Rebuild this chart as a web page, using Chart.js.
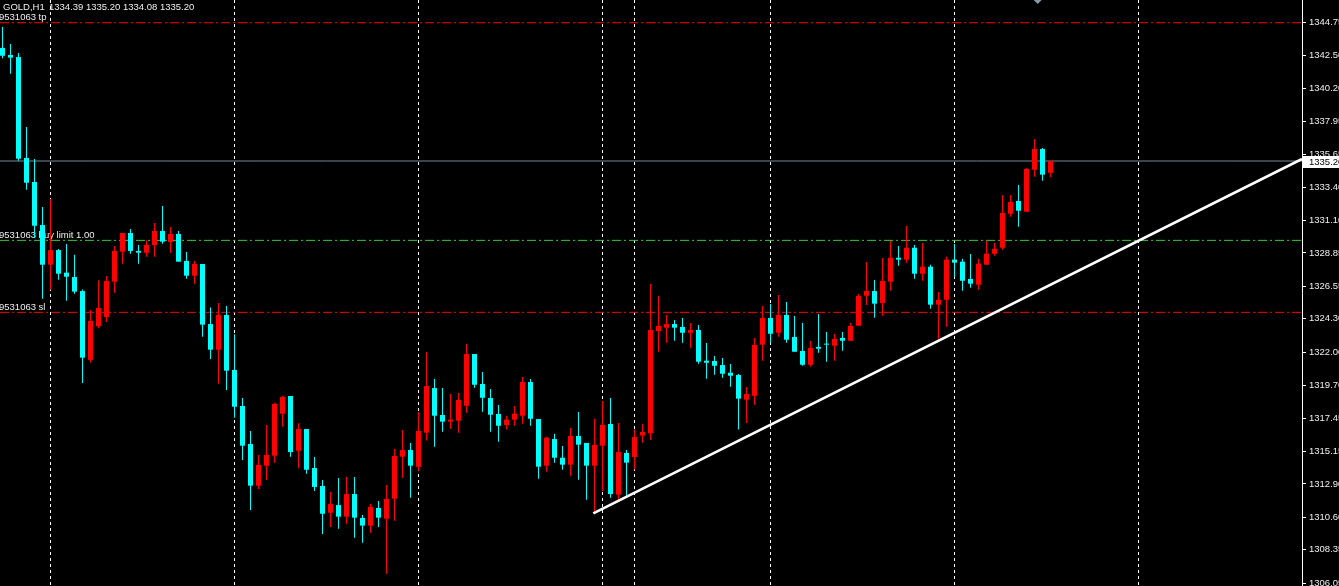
<!DOCTYPE html>
<html>
<head>
<meta charset="utf-8">
<script src="https://cdn.jsdelivr.net/npm/chart.js@4.4.0/dist/chart.umd.min.js"></script>
<style>
html,body{margin:0;padding:0;background:#000;overflow:hidden}
#wrap{position:relative;width:1339px;height:586px}
</style>
</head>
<body>
<div id="wrap"><canvas id="c"></canvas></div>
<script>
// ---- data (GOLD, H1) ----
const SYMBOL = 'GOLD,H1';
const LAST_QUOTE = '1334.39 1335.20 1334.08 1335.20';
const ORDER_ID = '9531063';

const OPEN = [1343.01,1342.52,1342.38,1335.41,1333.75,1330.78,1328.04,1329.05,1327.49,1327.19,
1326.22,1321.47,1323.79,1324.43,1326.87,1328.94,1330.23,1328.99,1328.87,1329.40,
1330.37,1329.61,1330.16,1328.30,1327.28,1328.09,1323.94,1322.17,1324.57,1320.77,
1318.28,1315.66,1312.78,1314.16,1314.85,1317.75,1318.97,1315.19,1316.69,1314.00,
1312.76,1310.91,1311.44,1310.64,1312.20,1310.55,1310.02,1311.24,1310.50,1311.88,
1314.78,1315.24,1314.09,1316.44,1319.52,1317.66,1317.20,1317.27,1318.30,1321.87,
1319.80,1318.83,1317.73,1316.97,1317.34,1317.61,1319.94,1317.38,1314.16,1316.00,
1314.71,1314.23,1316.21,1315.73,1314.16,1315.54,1317.04,1312.16,1315.04,1314.76,
1316.24,1316.40,1323.46,1323.69,1323.94,1323.74,1323.34,1323.53,1321.41,1321.39,
1321.11,1320.58,1320.42,1318.72,1318.99,1322.52,1324.36,1323.34,1324.57,1323.05,
1322.08,1321.13,1322.36,1322.58,1322.45,1322.98,1322.79,1323.83,1325.90,1326.22,
1325.40,1326.87,1328.52,1328.39,1329.21,1327.42,1327.90,1325.28,1325.62,1328.39,
1328.25,1327.05,1326.66,1328.04,1328.80,1329.21,1331.56,1332.44,1331.70,1334.60,
1336.03,1334.39];
const HIGH = [1344.46,1343.28,1342.66,1337.55,1335.34,1332.02,1332.58,1329.12,1329.47,1328.73,
1326.32,1324.91,1326.96,1327.26,1329.33,1330.23,1330.51,1329.40,1329.73,1330.92,
1332.09,1330.64,1330.37,1328.92,1328.30,1328.09,1325.08,1325.40,1325.19,1323.23,
1318.83,1316.56,1314.90,1316.97,1318.51,1318.97,1318.97,1317.09,1316.69,1314.76,
1313.17,1312.34,1313.31,1313.38,1313.38,1310.75,1311.51,1311.72,1312.83,1315.31,
1316.62,1315.73,1317.87,1322.01,1320.15,1319.52,1319.11,1319.18,1322.56,1321.87,
1320.63,1319.46,1318.35,1317.61,1318.28,1320.28,1320.15,1317.38,1316.16,1316.37,
1315.52,1316.76,1317.87,1315.73,1317.40,1318.63,1318.83,1317.11,1315.24,1316.66,
1317.04,1326.71,1325.88,1324.57,1324.22,1324.36,1324.01,1323.87,1322.63,1321.73,
1321.60,1321.18,1320.49,1319.59,1322.98,1325.19,1325.33,1325.95,1325.46,1324.50,
1324.01,1322.77,1324.64,1323.39,1323.25,1323.39,1324.01,1326.02,1328.23,1326.98,
1328.50,1329.68,1329.33,1330.71,1329.40,1329.54,1328.04,1326.15,1328.59,1329.47,
1328.45,1328.78,1328.45,1329.70,1329.56,1332.85,1332.85,1333.54,1334.72,1336.72,
1336.10,1335.20];
const LOW = [1342.29,1341.23,1335.22,1333.22,1329.90,1325.69,1326.31,1327.00,1325.55,1326.04,
1319.87,1321.29,1323.65,1324.08,1326.11,1328.11,1328.80,1328.11,1328.59,1328.59,
1329.49,1328.87,1328.25,1327.07,1326.73,1323.07,1321.53,1319.81,1319.39,1317.47,
1314.55,1311.10,1312.55,1313.17,1314.37,1316.85,1314.78,1314.02,1313.61,1312.41,
1309.44,1309.93,1309.81,1310.15,1309.19,1308.84,1309.53,1309.93,1306.70,1310.36,
1313.33,1311.95,1313.81,1315.89,1315.47,1316.51,1316.69,1316.44,1317.82,1319.55,
1317.89,1316.51,1315.82,1316.65,1316.92,1317.06,1316.92,1313.26,1313.74,1314.37,
1313.88,1313.47,1313.19,1311.81,1310.89,1312.41,1311.95,1311.79,1312.07,1313.90,
1315.75,1315.93,1322.03,1322.65,1322.79,1322.65,1322.31,1321.20,1320.17,1320.44,
1320.24,1319.61,1316.65,1317.11,1318.37,1321.41,1322.65,1323.07,1322.65,1322.03,
1321.06,1321.00,1321.96,1321.34,1321.41,1322.10,1322.79,1323.83,1325.26,1324.38,
1324.52,1326.24,1327.97,1328.18,1327.07,1326.93,1325.00,1322.93,1323.76,1327.21,
1326.24,1326.45,1326.31,1328.04,1328.66,1329.08,1331.35,1330.66,1331.70,1334.12,
1333.84,1334.08];
const CLOSE = [1342.47,1342.34,1335.36,1333.70,1330.73,1328.04,1329.05,1327.42,1327.21,1326.18,
1321.62,1324.15,1325.05,1326.91,1328.99,1330.23,1328.99,1328.87,1329.40,1330.37,
1329.63,1330.16,1328.25,1327.28,1328.09,1323.90,1322.17,1324.57,1320.72,1318.23,
1315.54,1312.78,1314.21,1314.90,1318.42,1318.90,1315.10,1316.69,1313.88,1312.69,
1310.84,1311.51,1310.64,1312.20,1310.57,1310.02,1311.31,1310.57,1311.86,1314.83,
1315.24,1314.16,1316.56,1319.66,1317.61,1317.20,1317.34,1318.70,1321.87,1319.75,
1318.85,1317.68,1316.92,1317.34,1317.75,1319.94,1317.40,1314.09,1316.09,1314.71,
1314.23,1316.21,1315.61,1314.16,1315.59,1316.97,1312.20,1315.10,1314.37,1316.14,
1316.49,1323.53,1323.81,1323.94,1323.69,1323.34,1323.53,1321.34,1321.27,1321.06,
1320.51,1320.37,1318.79,1319.11,1322.49,1324.36,1323.27,1324.57,1322.86,1322.03,
1321.13,1322.29,1322.24,1322.52,1322.91,1322.79,1323.81,1325.88,1326.22,1325.35,
1326.91,1328.52,1328.39,1329.21,1327.42,1327.90,1325.28,1325.62,1328.39,1328.18,
1326.93,1326.73,1328.11,1328.80,1329.14,1331.61,1332.37,1331.77,1334.65,1336.03,
1334.26,1335.20];

const Y_TICKS = [1344.75,1342.50,1340.20,1337.95,1335.65,1333.40,1331.10,1328.85,1326.55,
1324.30,1322.00,1319.70,1317.45,1315.15,1312.90,1310.60,1308.35,1306.05];
const GRID_X = [6,29,52,75,79,96,119,142];   // bar indices of the period separators

const TP = 1344.75;
const BUY_LIMIT = 1329.72;
const SL = 1324.75;
const BID = 1335.20;
const TREND = [{x:73.85, y:1310.87},{x:162.4375, y:1335.34}];
const ARROW = [{x:129.4, y:1346.32}];

// ---- axis ranges ----
const X_MIN = -0.3125, X_MAX = 162.4375;
const Y_MIN = 1305.85, Y_MAX = 1346.32;

const BULL = '#ff0000', BEAR = '#00ffff';
const idx = OPEN.map((_, i) => i);
const colorFor = ctx => (CLOSE[ctx.dataIndex] >= OPEN[ctx.dataIndex] ? BULL : BEAR);
const FONT = '"Liberation Sans", Arial, sans-serif';

const levelLine = (label, v, color, dash) => ({
  type: 'line', label,
  data: [{x: X_MIN, y: v}, {x: X_MAX, y: v}],
  borderColor: color, borderWidth: 1, borderDash: dash,
  pointRadius: 0, order: 6, clip: 0
});

const mtText = {
  id: 'mtText',
  beforeDatasetsDraw(chart) {
    const {ctx, scales: {y}} = chart;
    ctx.save();
    ctx.font = '9.5px ' + FONT;
    ctx.fillStyle = '#eeeeee';
    ctx.textAlign = 'left';
    ctx.textBaseline = 'alphabetic';
    ctx.fillText(SYMBOL, 3, 9.5);
    ctx.fillText(LAST_QUOTE, 49, 9.5);
    ctx.fillText(ORDER_ID + ' tp', -1, y.getPixelForValue(TP) - 2.5);
    ctx.fillText(ORDER_ID + ' buy limit 1.00', -1, y.getPixelForValue(BUY_LIMIT) - 2.5);
    ctx.fillText(ORDER_ID + ' sl', -1, y.getPixelForValue(SL) - 2.5);
    ctx.restore();
  },
  afterDraw(chart) {
    const {ctx, chartArea, scales: {y}} = chart;
    const py = y.getPixelForValue(BID);
    ctx.save();
    ctx.fillStyle = '#ffffff';
    ctx.fillRect(chartArea.right + 1, Math.round(py) - 5, chart.width - chartArea.right, 12);
    ctx.fillStyle = '#000000';
    ctx.font = '9.5px ' + FONT;
    ctx.textAlign = 'left';
    ctx.textBaseline = 'middle';
    ctx.fillText(BID.toFixed(2), chartArea.right + 7, Math.round(py) + 1);
    ctx.restore();
  }
};

new Chart(document.getElementById('c'), {
  data: {
    datasets: [
      levelLine('tp', TP, '#ff0000', [9, 3, 2, 3]),
      levelLine('buy limit', BUY_LIMIT, '#32cd32', [9, 3, 2, 3]),
      levelLine('sl', SL, '#ff0000', [9, 3, 2, 3]),
      levelLine('bid', BID, '#778899', []),
      {
        type: 'bar', label: 'wick',
        data: idx.map(i => ({x: i, y: [LOW[i], HIGH[i]]})),
        backgroundColor: colorFor, barThickness: 1, grouped: false,
        inflateAmount: 0, borderWidth: 0, order: 4
      },
      {
        type: 'bar', label: 'body',
        data: idx.map(i => ({x: i, y: [OPEN[i], CLOSE[i]]})),
        backgroundColor: colorFor, barThickness: 5, grouped: false,
        minBarLength: 1, inflateAmount: 0, borderWidth: 0, order: 3
      },
      {
        type: 'line', label: 'trend', data: TREND,
        borderColor: '#ffffff', borderWidth: 2.6, pointRadius: 0, order: 1
      },
      {
        type: 'line', label: 'arrow', data: ARROW, showLine: false,
        pointStyle: 'rectRot', pointRadius: 4, pointBackgroundColor: '#8a96a6',
        pointBorderWidth: 0, order: 0
      }
    ]
  },
  options: {
    responsive: true,
    maintainAspectRatio: false,
    animation: false,
    devicePixelRatio: 1,
    layout: {padding: 0, autoPadding: false},
    plugins: {legend: {display: false}, tooltip: {enabled: false}},
    scales: {
      x: {
        type: 'linear', min: X_MIN, max: X_MAX, bounds: 'data', offset: false,
        afterBuildTicks: s => { s.ticks = GRID_X.map(v => ({value: v})); },
        afterFit: s => { s.height = 0; s.paddingLeft = 0; s.paddingRight = 0; },
        ticks: {display: false},
        grid: {display: true, drawOnChartArea: true, drawTicks: false, color: '#ffffff', lineWidth: 1, offset: false},
        border: {display: false, dash: [3, 3]}
      },
      y: {
        type: 'linear', position: 'right', min: Y_MIN, max: Y_MAX, bounds: 'data',
        afterBuildTicks: s => { s.ticks = Y_TICKS.map(v => ({value: v})); },
        afterFit: s => { s.width = 37; s.paddingTop = 0; s.paddingBottom = 0; },
        ticks: {
          color: '#eeeeee', padding: 3, autoSkip: false,
          font: {family: FONT, size: 9.5},
          callback: v => Number(v).toFixed(2)
        },
        grid: {display: true, drawOnChartArea: false, drawTicks: true, tickLength: 4, color: '#ffffff', lineWidth: 1},
        border: {display: true, color: '#ffffff', width: 1}
      }
    }
  },
  plugins: [mtText]
});
</script>
</body>
</html>
